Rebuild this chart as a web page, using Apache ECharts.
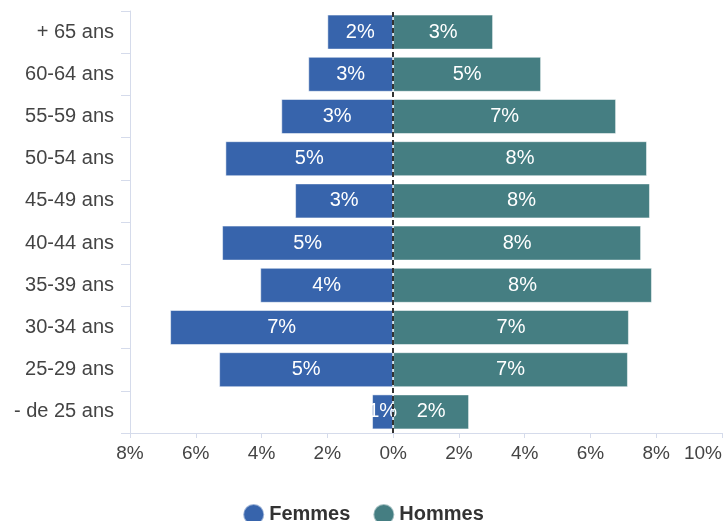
<!DOCTYPE html>
<html>
<head>
<meta charset="utf-8">
<script src="https://cdn.jsdelivr.net/npm/echarts@6/dist/echarts.min.js"></script>
<style>
  html, body { margin: 0; padding: 0; background: #fff; }
  #chart { width: 726px; height: 521px; }
</style>
</head>
<body>
<div id="chart"></div>
<script>
// age groups, bottom to top
const ageGroups = ['- de 25 ans', '25-29 ans', '30-34 ans', '35-39 ans', '40-44 ans',
  '45-49 ans', '50-54 ans', '55-59 ans', '60-64 ans', '+ 65 ans'];
// share in %, women drawn on the left (negative)
const femmes = [0.64, 5.29, 6.78, 4.04, 5.2, 2.98, 5.1, 3.4, 2.58, 2.0];
const hommes = [2.31, 7.14, 7.17, 7.87, 7.54, 7.81, 7.72, 6.78, 4.5, 3.04];

const textColor = '#444';
const axisColor = '#d5dbeb';
const font = 'Liberation Sans, Arial, sans-serif';

const myChart = echarts.init(document.getElementById('chart'));

const barLabel = {
  show: true,
  position: 'inside',
  color: '#fff',
  fontSize: 20,
  fontFamily: font,
  formatter: p => Math.round(Math.abs(p.value)) + '%'
};

const option = {
  animation: false,
  grid: { left: 130, right: 4, top: 11, bottom: 88, outerBoundsMode: 'none', containLabel: false },
  legend: {
    bottom: -10,
    left: 'center',
    icon: 'circle',
    itemWidth: 21,
    itemHeight: 21,
    itemGap: 22,
    textStyle: { color: '#333', fontSize: 20, fontWeight: 'bold', fontFamily: font },
    data: ['Femmes', 'Hommes']
  },
  xAxis: {
    type: 'value',
    min: -8,
    max: 10,
    interval: 2,
    axisLine: { show: true, lineStyle: { color: axisColor } },
    axisTick: { show: true, length: 5, lineStyle: { color: axisColor } },
    splitLine: { show: false },
    axisLabel: {
      color: textColor,
      fontSize: 19,
      margin: 11,
      fontFamily: font,
      alignMaxLabel: 'right',
      formatter: v => Math.abs(v) + '%'
    }
  },
  yAxis: {
    type: 'category',
    data: ageGroups,
    axisLine: { show: true, onZero: false, lineStyle: { color: axisColor } },
    axisTick: { show: true, length: 9, lineStyle: { color: axisColor } },
    axisLabel: {
      color: textColor,
      fontSize: 20,
      margin: 16,
      fontFamily: font
    }
  },
  series: [
    {
      name: 'Femmes',
      type: 'bar',
      stack: 'total',
      barWidth: 35,
      itemStyle: { color: '#3764ac', borderColor: 'rgba(255,255,255,0.5)', borderWidth: 1 },
      label: barLabel,
      data: femmes.map(v => -v),
      markLine: {
        silent: true,
        symbol: 'none',
        label: { show: false },
        lineStyle: { color: '#333', type: [5, 3], width: 2 },
        data: [{ xAxis: 0 }]
      }
    },
    {
      name: 'Hommes',
      type: 'bar',
      stack: 'total',
      barWidth: 35,
      itemStyle: { color: '#457e82', borderColor: 'rgba(255,255,255,0.5)', borderWidth: 1 },
      label: barLabel,
      data: hommes
    }
  ]
};

myChart.setOption(option);
</script>
</body>
</html>
